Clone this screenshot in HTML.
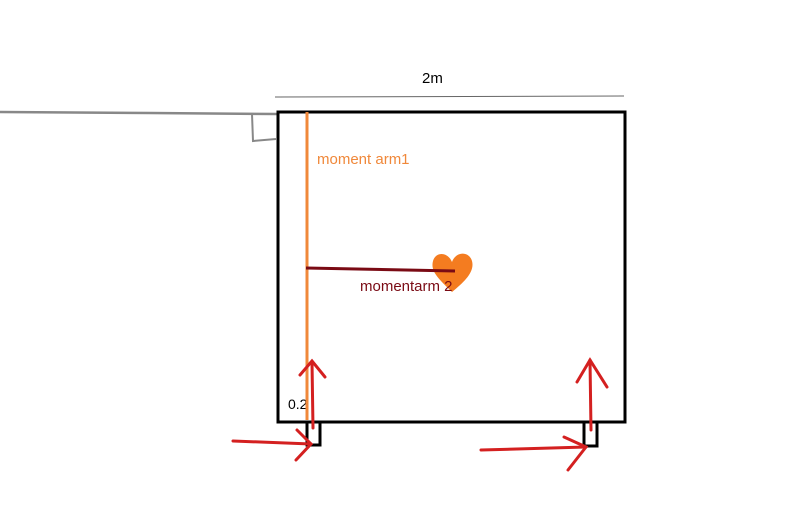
<!DOCTYPE html>
<html><head><style>body{margin:0;background:#fff}svg{display:block}</style></head><body>
<svg width="800" height="506" viewBox="0 0 800 506" xmlns="http://www.w3.org/2000/svg" font-family="Liberation Sans, sans-serif">
<rect width="800" height="506" fill="#fff"/>
<polyline points="0,112 150,113 277,114" fill="none" stroke="#888" stroke-width="2.5"/>
<polyline points="252,114 253,141 276,139" fill="none" stroke="#888" stroke-width="2"/>
<line x1="275" y1="97" x2="624" y2="96" stroke="#666" stroke-width="1"/>
<text x="422" y="83" font-size="15" fill="#000">2m</text>
<rect x="278" y="112" width="347" height="310" fill="none" stroke="#000" stroke-width="3"/>
<polyline points="307,422 307,445 320,445 320,422" fill="none" stroke="#000" stroke-width="3"/>
<polyline points="584,422 584,446 597,446 597,422" fill="none" stroke="#000" stroke-width="3"/>
<text x="288" y="409" font-size="14" fill="#000">0.2</text>
<line x1="307" y1="112" x2="307" y2="420" stroke="#f0883a" stroke-width="3"/>
<text x="317" y="164" font-size="15" fill="#f0883a">moment arm1</text>
<path d="M452,292 C440,280 430,272 433,261 C436,251 448,252 452,262 C456,251 469,251 472,261 C475,272 464,282 452,292 Z" fill="#f47c20"/>
<line x1="306" y1="268" x2="455" y2="271" stroke="#7a0a14" stroke-width="3"/>
<text x="360" y="291" font-size="15" fill="#7a0a14">momentarm 2</text>
<g stroke="#d42020" stroke-width="3" fill="none" stroke-linecap="round">
<line x1="313" y1="428" x2="312" y2="362"/>
<polyline points="300,375 312,361 325,377"/>
<line x1="233" y1="441" x2="311" y2="444"/>
<polyline points="297,430 311,444 296,460"/>
<line x1="591" y1="430" x2="590" y2="360"/>
<polyline points="577,382 590,360 607,387"/>
<line x1="481" y1="450" x2="586" y2="447"/>
<polyline points="564,437 586,447 568,470"/>
</g>
</svg>
</body></html>
